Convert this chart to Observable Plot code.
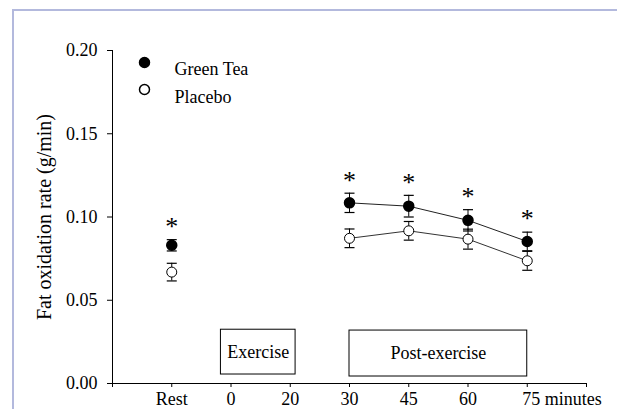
<!DOCTYPE html>
<html><head><meta charset="utf-8">
<script src="https://cdn.jsdelivr.net/npm/d3@7"></script>
<script src="https://cdn.jsdelivr.net/npm/@observablehq/plot@0.6"></script>
<style>
html,body{margin:0;padding:0;background:#fff;}
#wrap{position:relative;width:617px;height:409px;overflow:hidden;background:#fff;}
#border{position:absolute;left:12px;top:9px;right:-10px;bottom:-10px;border-top:2px solid #b3b9dd;border-left:2px solid #b3b9dd;z-index:2;pointer-events:none;}
#chart{position:absolute;left:0;top:0;}
</style></head><body>
<div id="wrap"><div id="border"></div><div id="chart"></div></div>
<script>
// x categories (index positions on an evenly spaced axis)
const timeLabels = ["Rest", "0", "20", "30", "45", "60", "75"];
const unitLabel = "minutes";

// measured time points (indices into timeLabels)
const measuredIdx = [0, 3, 4, 5, 6];

// Green Tea
const greenTeaMean = [0.0830, 0.1085, 0.1065, 0.0980, 0.0853];
const greenTeaSE   = [0.0034, 0.0058, 0.0065, 0.0064, 0.0056];
const significant  = [true, true, true, true, true];

// Placebo
const placeboMean = [0.0669, 0.0872, 0.0917, 0.0867, 0.0737];
const placeboSE   = [0.0053, 0.0056, 0.0056, 0.0060, 0.0057];

// phase boxes (x in time-index units, y in g/min)
const phaseLabels = ["Exercise", "Post-exercise"];
const phaseStart  = [0.83, 3];
const phaseEnd    = [2.09, 6];
const phaseLow    = [0.0054, 0.0042];
const phaseHigh   = [0.0323, 0.0318];

const yTicks = [0, 0.05, 0.10, 0.15, 0.20];
const yLabel = "Fat oxidation rate (g/min)";
const seriesNames = ["Green Tea", "Placebo"];

const green = measuredIdx.map((x, i) => ({x, mean: greenTeaMean[i], se: greenTeaSE[i], sig: significant[i]}));
const placebo = measuredIdx.map((x, i) => ({x, mean: placeboMean[i], se: placeboSE[i]}));
const phases = phaseLabels.map((label, i) => ({label, x1: phaseStart[i], x2: phaseEnd[i], y1: phaseLow[i], y2: phaseHigh[i]}));

const capSymbol = {draw(ctx) { ctx.moveTo(-5, 0); ctx.lineTo(5, 0); }};
const caps = rows => rows.flatMap(d => [{x: d.x, y: d.mean - d.se}, {x: d.x, y: d.mean + d.se}]);

const FONT = "'Liberation Serif', 'Times New Roman', Times, serif";

const chart = Plot.plot({
  width: 617,
  height: 409,
  marginLeft: 112,
  marginRight: 31,
  marginTop: 50,
  marginBottom: 26,
  style: {fontFamily: FONT, fontSize: "18px", color: "black", background: "transparent"},
  x: {domain: [-1, 7]},
  y: {domain: [0, 0.2]},
  marks: [
    Plot.ruleX([-1], {stroke: "black", strokeWidth: 1}),
    Plot.ruleY([0], {stroke: "black", strokeWidth: 1}),
    Plot.axisY({ticks: yTicks, tickFormat: d3.format(".2f"), tickSize: 5, tickPadding: 10, label: null, fontSize: 18}),
    Plot.axisX({ticks: d3.range(-1, 8), tickFormat: i => (i >= 0 && i < timeLabels.length - 1) ? timeLabels[i] : "", tickSize: 4, tickPadding: 5, label: null, fontSize: 18}),
    Plot.text([timeLabels.length - 1], {x: d => d, y: () => 0, text: d => `${timeLabels[d]} ${unitLabel}`, lineAnchor: "top", textAnchor: "start", dx: -5, dy: 9, fontSize: 18}),
    Plot.text([yLabel], {frameAnchor: "left", textAnchor: "middle", rotate: -90, dx: -68, fontSize: 20}),
    Plot.rect(phases, {x1: "x1", x2: "x2", y1: "y1", y2: "y2", fill: "white", stroke: "black", strokeWidth: 1}),
    Plot.text(phases, {x: d => (d.x1 + d.x2) / 2, y: d => (d.y1 + d.y2) / 2, text: "label", fontSize: 18}),
    // Placebo
    Plot.line(placebo.filter(d => d.x >= 3), {x: "x", y: "mean", stroke: "#333", strokeWidth: 1}),
    Plot.ruleX(placebo, {x: "x", y1: d => d.mean - d.se, y2: d => d.mean + d.se, stroke: "black", strokeWidth: 1}),
    Plot.dot(caps(placebo), {x: "x", y: "y", symbol: capSymbol, fill: "none", stroke: "black", strokeWidth: 1.2}),
    Plot.dot(placebo, {x: "x", y: "mean", r: 5, fill: "white", stroke: "black", strokeWidth: 1}),
    // Green Tea
    Plot.line(green.filter(d => d.x >= 3), {x: "x", y: "mean", stroke: "#222", strokeWidth: 1}),
    Plot.ruleX(green, {x: "x", y1: d => d.mean - d.se, y2: d => d.mean + d.se, stroke: "black", strokeWidth: 1}),
    Plot.dot(caps(green), {x: "x", y: "y", symbol: capSymbol, fill: "none", stroke: "black", strokeWidth: 1.2}),
    Plot.dot(green, {x: "x", y: "mean", r: 5, fill: "black", stroke: "black"}),
    Plot.text(green.filter(d => d.sig), {x: "x", y: d => d.mean + d.se, text: () => "*", dy: -13, fontSize: 26}),
    // legend
    Plot.dot([seriesNames[0]], {frameAnchor: "top-left", dx: 32, dy: 12, r: 5, fill: "black", stroke: "black"}),
    Plot.dot([seriesNames[1]], {frameAnchor: "top-left", dx: 32, dy: 39, r: 5, fill: "white", stroke: "black"}),
    Plot.text([seriesNames[0]], {frameAnchor: "top-left", dx: 62, dy: 12, textAnchor: "start", fontSize: 18}),
    Plot.text([seriesNames[1]], {frameAnchor: "top-left", dx: 62, dy: 40, textAnchor: "start", fontSize: 18})
  ]
});
document.getElementById("chart").appendChild(chart);
</script>
</body></html>
